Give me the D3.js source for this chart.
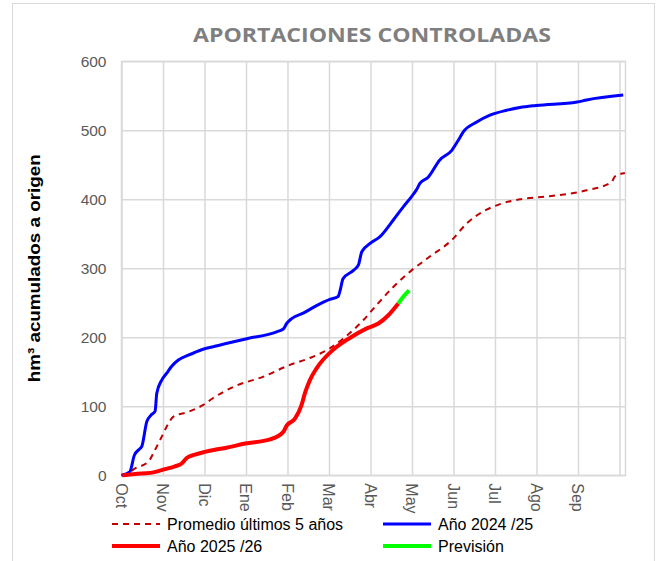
<!DOCTYPE html>
<html>
<head>
<meta charset="utf-8">
<script src="https://cdn.jsdelivr.net/npm/d3@7"></script>
<style>
  html, body { margin: 0; padding: 0; background: #ffffff; }
  svg { display: block; }
</style>
</head>
<body>
<script>
// ---------- DATA ----------
const monthLabels = ["Oct","Nov","Dic","Ene","Feb","Mar","Abr","May","Jun","Jul","Ago","Sep"];
const yTicks = [0, 100, 200, 300, 400, 500, 600];

// x = months since 1 Oct, y = hm³ accumulated
const promedio = [
  [0,0],[0.08,1],[0.33,10],[0.65,20],[0.81,37],[0.97,56],[1.13,75],[1.25,85],[1.61,92],
  [1.97,102],[2.21,112],[2.69,128],[3.42,143],[4.06,160],[4.54,170],[5.02,184],[5.34,198],
  [5.83,225],[6.15,247],[6.55,273],[6.99,297],[7.43,317],[7.96,341],[8.32,365],[8.80,385],
  [9.12,393],[9.60,400],[10.25,404],[10.97,410],[11.21,413],[11.81,425],[11.89,433],[12.13,438]
];
const anio2425 = [
  [0,0],[0.2,5],[0.31,29],[0.45,39],[0.49,42],[0.61,78],[0.71,87],[0.81,93],[0.85,119],
  [0.97,138],[1.09,148],[1.21,158],[1.37,167],[1.61,174],[1.93,182],[2.25,187],[3.02,198],
  [3.74,208],[3.90,212],[3.98,220],[4.10,227],[4.38,235],[4.70,246],[5.02,255],[5.22,259],
  [5.26,266],[5.34,285],[5.59,297],[5.71,305],[5.79,324],[5.99,336],[6.23,346],[6.55,370],
  [6.79,389],[6.99,404],[7.11,414],[7.19,423],[7.39,432],[7.67,457],[7.96,471],[8.12,486],
  [8.24,498],[8.56,512],[8.88,522],[9.28,529],[9.60,533],[9.99,536],[10.98,541],[11.21,544],
  [12.09,551]
];
const anio2526 = [
  [0.02,0],[0.33,2],[0.69,3.5],[1.05,9],[1.29,13],[1.45,17],[1.57,25],[1.77,30],[2.01,34],
  [2.25,37],[2.53,40],[2.98,46],[3.58,52],[3.90,63],[3.98,72],[4.18,82],[4.34,102],[4.42,119],
  [4.54,138],[4.70,155],[5.10,182],[5.50,199],[5.91,213],[6.19,220],[6.43,232],[6.67,249]
];
const prevision = [[6.67,249],[6.78,258],[6.93,268]];

const legendItems = [
  {label: "Promedio últimos 5 años", color: "#c00000", width: 2, dash: "6,5"},
  {label: "Año 2024 /25", color: "#0000ff", width: 3, dash: null},
  {label: "Año 2025 /26", color: "#ff0000", width: 4, dash: null},
  {label: "Previsión", color: "#00ff00", width: 4, dash: null}
];

// ---------- LAYOUT ----------
const W = 662, H = 561;
const plot = {left: 121.5, right: 625.5, top: 61.3, bottom: 475.3};

const svg = d3.select("body").append("svg").attr("width", W).attr("height", H);

// outer chart border
svg.append("rect").attr("x", 12.5).attr("y", 3.5).attr("width", 642).attr("height", 570)
  .attr("fill", "#fff").attr("stroke", "#d9d9d9").attr("stroke-width", 1);

const x = d3.scaleLinear().domain([0, 12.145]).range([plot.left, plot.right]);
const y = d3.scaleLinear().domain([0, 600]).range([plot.bottom, plot.top]);

// horizontal gridlines + y labels
const yAxis = svg.append("g").attr("transform", `translate(${plot.left},0)`)
  .call(d3.axisLeft(y).tickValues(yTicks).tickSize(-(plot.right - plot.left)).tickPadding(15));
yAxis.select(".domain").remove();
yAxis.selectAll(".tick line").attr("stroke", "#d9d9d9").attr("stroke-width", 1.5);
yAxis.selectAll(".tick text").attr("font-family", "Liberation Sans, Arial, sans-serif")
  .attr("font-size", 15.5).attr("fill", "#595959");

// vertical gridlines at month starts
const monthTicks = d3.range(0, 13);
const xAxis = svg.append("g").attr("transform", `translate(0,${plot.bottom})`)
  .call(d3.axisBottom(x).tickValues(monthTicks).tickSize(-(plot.bottom - plot.top)).tickFormat(""));
xAxis.select(".domain").remove();
xAxis.selectAll(".tick line").attr("stroke", "#d9d9d9").attr("stroke-width", 1.5);

// x labels rotated
const xl = svg.append("g");
xl.selectAll("text").data(monthLabels).join("text")
  .attr("transform", (d, i) => `translate(${x(i) - 5.5},${plot.bottom + 8}) rotate(90)`)
  .attr("font-family", "Liberation Sans, Arial, sans-serif")
  .attr("font-size", 16).attr("fill", "#595959")
  .attr("text-anchor", "start")
  .text(d => d);

// plot-area border
svg.append("rect").attr("x", plot.left).attr("y", plot.top)
  .attr("width", plot.right - plot.left).attr("height", plot.bottom - plot.top)
  .attr("fill", "none").attr("stroke", "#d9d9d9").attr("stroke-width", 1.5);

// ---------- LINES ----------
const line = d3.line().x(d => x(d[0])).y(d => y(d[1])).curve(d3.curveMonotoneX);

svg.append("path").datum(promedio).attr("d", line).attr("fill", "none")
  .attr("stroke", "#c00000").attr("stroke-width", 2).attr("stroke-dasharray", "6,5");
svg.append("path").datum(anio2425).attr("d", line).attr("fill", "none")
  .attr("stroke", "#0000ff").attr("stroke-width", 3).attr("stroke-linejoin", "round");
svg.append("path").datum(anio2526).attr("d", line).attr("fill", "none")
  .attr("stroke", "#ff0000").attr("stroke-width", 4).attr("stroke-linejoin", "round");
svg.append("path").datum(prevision).attr("d", line).attr("fill", "none")
  .attr("stroke", "#00ff00").attr("stroke-width", 4);

// ---------- TITLES ----------
svg.append("text").attr("x", 372).attr("y", 42).attr("text-anchor", "middle")
  .attr("font-family", "Open Sans, sans-serif").attr("font-weight", "bold")
  .attr("font-size", 20).attr("fill", "#7f7f7f")
  .attr("textLength", 358).attr("lengthAdjust", "spacingAndGlyphs")
  .text("APORTACIONES CONTROLADAS");

svg.append("text").attr("transform", `translate(40,${(plot.top + plot.bottom) / 2}) rotate(-90)`)
  .attr("text-anchor", "middle")
  .attr("font-family", "Liberation Sans, Arial, sans-serif").attr("font-weight", "bold")
  .attr("font-size", 17).attr("fill", "#000")
  .attr("textLength", 228).attr("lengthAdjust", "spacingAndGlyphs")
  .text("hm³ acumulados a origen");

// ---------- LEGEND ----------
const legPos = [[112, 524], [383, 524], [112, 546], [383, 546]];
const lg = svg.append("g");
legendItems.forEach((it, i) => {
  const [lx, ly] = legPos[i];
  lg.append("line").attr("x1", lx).attr("x2", lx + 48).attr("y1", ly).attr("y2", ly)
    .attr("stroke", it.color).attr("stroke-width", it.width)
    .attr("stroke-dasharray", it.dash);
  lg.append("text").attr("x", lx + 55).attr("y", ly + 5.5)
    .attr("font-family", "Liberation Sans, Arial, sans-serif").attr("font-size", 16)
    .attr("fill", "#000").text(it.label);
});
</script>
</body>
</html>
